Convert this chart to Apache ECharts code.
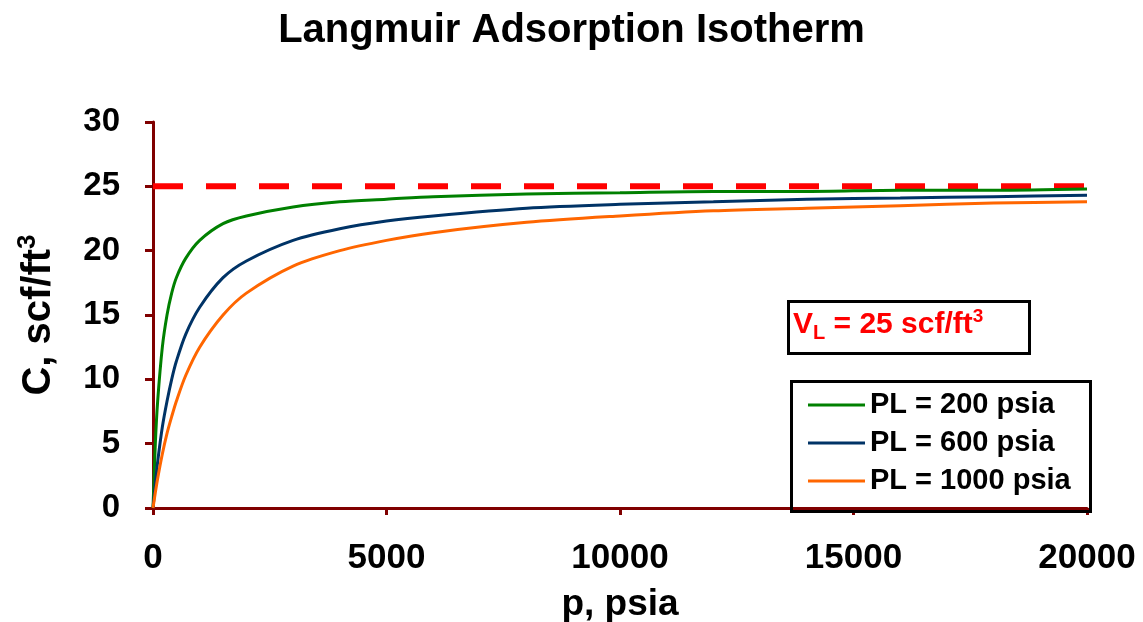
<!DOCTYPE html>
<html>
<head>
<meta charset="utf-8">
<script src="https://cdn.jsdelivr.net/npm/echarts@6/dist/echarts.min.js"></script>
<style>
html,body{margin:0;padding:0;background:#fff;}
#chart{width:1143px;height:622px;}
</style>
</head>
<body>
<div id="chart"></div>
<script>
// Pressure points (psia)
var pressure = [0, 50, 100, 200, 300, 400, 500, 700, 1000, 1500, 2000, 3000, 4000, 5000, 6000, 8000, 10000, 12000, 14000, 16000, 18000, 20000];
// Adsorbed gas content (scf/ft3)
var pl200  = [0, 5.0, 8.3, 12.5, 15.0, 16.7, 17.9, 19.4, 20.8, 22.1, 22.7, 23.4, 23.8, 24.0, 24.2, 24.4, 24.5, 24.6, 24.6, 24.7, 24.7, 24.8];
var pl600  = [0, 1.9, 3.6, 6.3, 8.3, 10.0, 11.4, 13.5, 15.6, 17.9, 19.2, 20.8, 21.7, 22.3, 22.7, 23.3, 23.6, 23.8, 24.0, 24.1, 24.2, 24.3];
var pl1000 = [0, 1.2, 2.3, 4.2, 5.8, 7.1, 8.3, 10.3, 12.5, 15.0, 16.7, 18.8, 20.0, 20.8, 21.4, 22.2, 22.7, 23.1, 23.3, 23.5, 23.7, 23.8];
var seriesNames = ['PL = 200 psia', 'PL = 600 psia', 'PL = 1000 psia'];
var vlValue = 25;
var xRange = [0, 20000];
var yRange = [0, 30];

function pairs(xs, ys) { return xs.map(function (x, i) { return [x, ys[i]]; }); }

var FONT = '"Liberation Sans", Arial, sans-serif';
var axisColor = '#800000';
var chart = echarts.init(document.getElementById('chart'));
chart.setOption({
  backgroundColor: '#ffffff',
  animation: false,
  title: {
    text: 'Langmuir Adsorption Isotherm',
    left: 'center', top: 6,
    textStyle: { fontFamily: FONT, fontWeight: 'bold', fontSize: 40, color: '#000' }
  },
  grid: { left: 153, right: 56, top: 122, bottom: 114, containLabel: false, outerBoundsMode: 'none' },
  legend: {
    data: seriesNames,
    orient: 'vertical',
    left: 803, top: 385,
    icon: 'rect',
    itemWidth: 57, itemHeight: 3,
    itemGap: 8,
    textStyle: { fontFamily: FONT, fontWeight: 'bold', fontSize: 29, color: '#000', lineHeight: 30 }
  },
  xAxis: {
    type: 'value', min: xRange[0], max: xRange[1], interval: 5000,
    name: 'p, psia', nameLocation: 'middle', nameGap: 78,
    nameTextStyle: { fontFamily: FONT, fontWeight: 'bold', fontSize: 37, color: '#000' },
    axisLine: { onZero: false, lineStyle: { color: axisColor, width: 3 } },
    axisTick: { show: true, length: 7, lineStyle: { color: axisColor, width: 3 } },
    axisLabel: { margin: 33, fontFamily: FONT, fontWeight: 'bold', fontSize: 35, color: '#000',
      formatter: function (v) { return String(v); } },
    splitLine: { show: false }
  },
  yAxis: {
    type: 'value', min: yRange[0], max: yRange[1], interval: 5,
    name: '{a|C, scf/ft}{s|3}', nameLocation: 'middle', nameGap: 90,
    nameTextStyle: {
      fontFamily: FONT, fontWeight: 'bold', fontSize: 40, color: '#000',
      rich: {
        a: { fontFamily: FONT, fontWeight: 'bold', fontSize: 40, color: '#000', lineHeight: 48, verticalAlign: 'middle' },
        s: { fontFamily: FONT, fontWeight: 'bold', fontSize: 26, color: '#000', lineHeight: 26, verticalAlign: 'top' }
      }
    },
    axisLine: { onZero: false, lineStyle: { color: axisColor, width: 3 } },
    axisTick: { show: true, length: 8, lineStyle: { color: axisColor, width: 3 } },
    axisLabel: { margin: 33, fontFamily: FONT, fontWeight: 'bold', fontSize: 33, color: '#000' },
    splitLine: { show: false }
  },
  series: [
    { name: 'VL', type: 'line', data: [[xRange[0], vlValue], [xRange[1], vlValue]], symbol: 'none',
      lineStyle: { color: '#ff0000', width: 6, type: [30, 23] }, z: 1 },
    { name: seriesNames[0], type: 'line', data: pairs(pressure, pl200), symbol: 'none', smooth: 0.3,
      lineStyle: { color: '#008000', width: 3 }, itemStyle: { color: '#008000' }, z: 3 },
    { name: seriesNames[1], type: 'line', data: pairs(pressure, pl600), symbol: 'none', smooth: 0.3,
      lineStyle: { color: '#003366', width: 3 }, itemStyle: { color: '#003366' }, z: 3 },
    { name: seriesNames[2], type: 'line', data: pairs(pressure, pl1000), symbol: 'none', smooth: 0.3,
      lineStyle: { color: '#ff6600', width: 3 }, itemStyle: { color: '#ff6600' }, z: 3 }
  ],
  graphic: [
    { type: 'rect', left: 787, top: 300, shape: { width: 241, height: 52 }, z: 10,
      style: { fill: '#fff', stroke: '#000', lineWidth: 3 } },
    { type: 'text', left: 793, top: 307, z: 11,
      style: {
        text: '{a|V}{b|L}{a| = 25 scf/ft}{c|3}',
        fill: '#ff0000',
        rich: {
          a: { fontFamily: FONT, fontWeight: 'bold', fontSize: 30, fill: '#ff0000', lineHeight: 36, verticalAlign: 'middle' },
          b: { fontFamily: FONT, fontWeight: 'bold', fontSize: 20, fill: '#ff0000', lineHeight: 20, verticalAlign: 'bottom' },
          c: { fontFamily: FONT, fontWeight: 'bold', fontSize: 19, fill: '#ff0000', lineHeight: 19, verticalAlign: 'top' }
        }
      } },
    { type: 'rect', left: 789, top: 379, shape: { width: 299, height: 130 }, z: 10,
      style: { fill: 'none', stroke: '#000', lineWidth: 3 } }
  ]
});
</script>
</body>
</html>
